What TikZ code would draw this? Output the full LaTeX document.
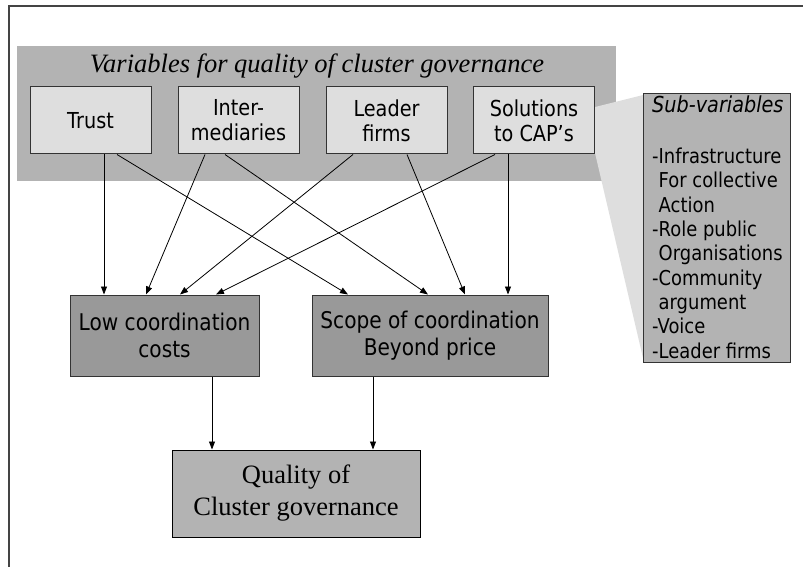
\documentclass[tikz,border=0pt]{standalone}
\usepackage{fontspec}
\setmainfont{Liberation Serif}
\setsansfont{DejaVu Sans}[FakeStretch=0.875]
\usetikzlibrary{
    calc,
    arrows.meta
}

\begin{document}
\begin{tikzpicture}[
    x=1pt,
    y=-1pt,
    varbox/.style={
        draw=g5,
        fill=g1,
        line width=1pt,
        minimum width=121pt,
        minimum height=67pt,
        inner sep=0pt,
        align=center,
        anchor=center,
        font=\sffamily\fontsize{22}{25}\selectfont
    },
    midbox/.style={
        draw=g5,
        fill=g3,
        line width=1pt,
        minimum height=81pt,
        inner sep=0pt,
        align=center,
        anchor=center,
        font=\sffamily\fontsize{23}{27}\selectfont
    },
    resbox/.style={
        draw=black,
        fill=g2,
        line width=1pt,
        minimum width=248pt,
        minimum height=87pt,
        inner sep=0pt,
        align=center,
        anchor=center,
        font=\rmfamily\fontsize{26.5}{32}\selectfont
    },
    link/.style={
        -{Triangle[length=8pt,width=6pt]},
        line width=0.8pt
    }]
    \definecolor{g1}{RGB}{222, 222, 222}
    \definecolor{g2}{RGB}{179, 179, 179}
    \definecolor{g3}{RGB}{153, 153, 153}
    \definecolor{g4}{RGB}{68, 68, 68}
    \definecolor{g5}{RGB}{51, 51, 51}

    \useasboundingbox (0,0) rectangle (803,567);
    \draw[g4, line width=1.3pt] (803,6) -- (9,6) -- (9,567);

    \node[fill=g2, minimum width=599pt, minimum height=135pt, inner sep=0pt] (band) at (316.5,113.5) {};
    \node[anchor=base, font=\rmfamily\itshape\fontsize{26.5}{30}\selectfont] (vartitle) at (317,73) {Variables for quality of cluster governance};
    \fill[g1] (595,107) -- (643,95) -- (643,358) -- (595,153) -- cycle;

    \node[varbox] (trust) at (90.5,120.5) {Trust};
    \node[varbox] (inter) at (238.5,120.5) {Inter-\\mediaries};
    \node[varbox] (leader) at (386.5,120.5) {Leader\\firms};
    \node[varbox] (cap) at (534,120.5) {Solutions\\to CAP's};

    \node[draw=g5, fill=g2, line width=1pt, minimum width=147pt, minimum height=268pt, inner sep=0pt] (sub) at (716.5,228) {};
    \node[anchor=base west, inner sep=0pt, font=\sffamily\itshape\fontsize{22}{24.3}\selectfont] (subtitle) at (652,113) {Sub-variables};
    \node[anchor=base west, inner sep=0pt, align=left, font=\sffamily\fontsize{20.5}{24.3}\selectfont] (sublist) at (652,358) {-Infrastructure\\
        \hphantom{-}For collective\\
        \hphantom{-}Action\\
        -Role public\\
        \hphantom{-}Organisations\\
        -Community\\
        \hphantom{-}argument\\
        -Voice\\
        -Leader firms};

    \node[midbox, minimum width=189pt] (low) at (164.5,335.5) {Low coordination\\costs};
    \node[midbox, minimum width=236pt] (scope) at (430,335.5) {Scope of coordination\\Beyond price};
    \node[resbox] (quality) at (296,493.5) {Quality of\\Cluster governance};

    \draw[link] ([xshift=13.5pt]trust.south) -- ([xshift=-60.5pt]low.north);
    \draw[link] ([xshift=26.5pt]trust.south) -- ([xshift=-82pt]scope.north);
    \draw[link] ([xshift=-33.5pt]inter.south) -- ([xshift=-18.5pt]low.north);
    \draw[link] ([xshift=-13.5pt]inter.south) -- ([xshift=-2pt]scope.north);
    \draw[link] ([xshift=-33.5pt]leader.south) -- ([xshift=15.5pt]low.north);
    \draw[link] ([xshift=20.5pt]leader.south) -- ([xshift=35pt]scope.north);
    \draw[link] ([xshift=-39pt]cap.south) -- ([xshift=51.5pt]low.north);
    \draw[link] ([xshift=-26pt]cap.south) -- ([xshift=78pt]scope.north);
    \draw[link] ([xshift=47.5pt]low.south) -- ([xshift=-84pt]quality.north);
    \draw[link] ([xshift=-57pt]scope.south) -- ([xshift=77pt]quality.north);
\end{tikzpicture}
\end{document}
